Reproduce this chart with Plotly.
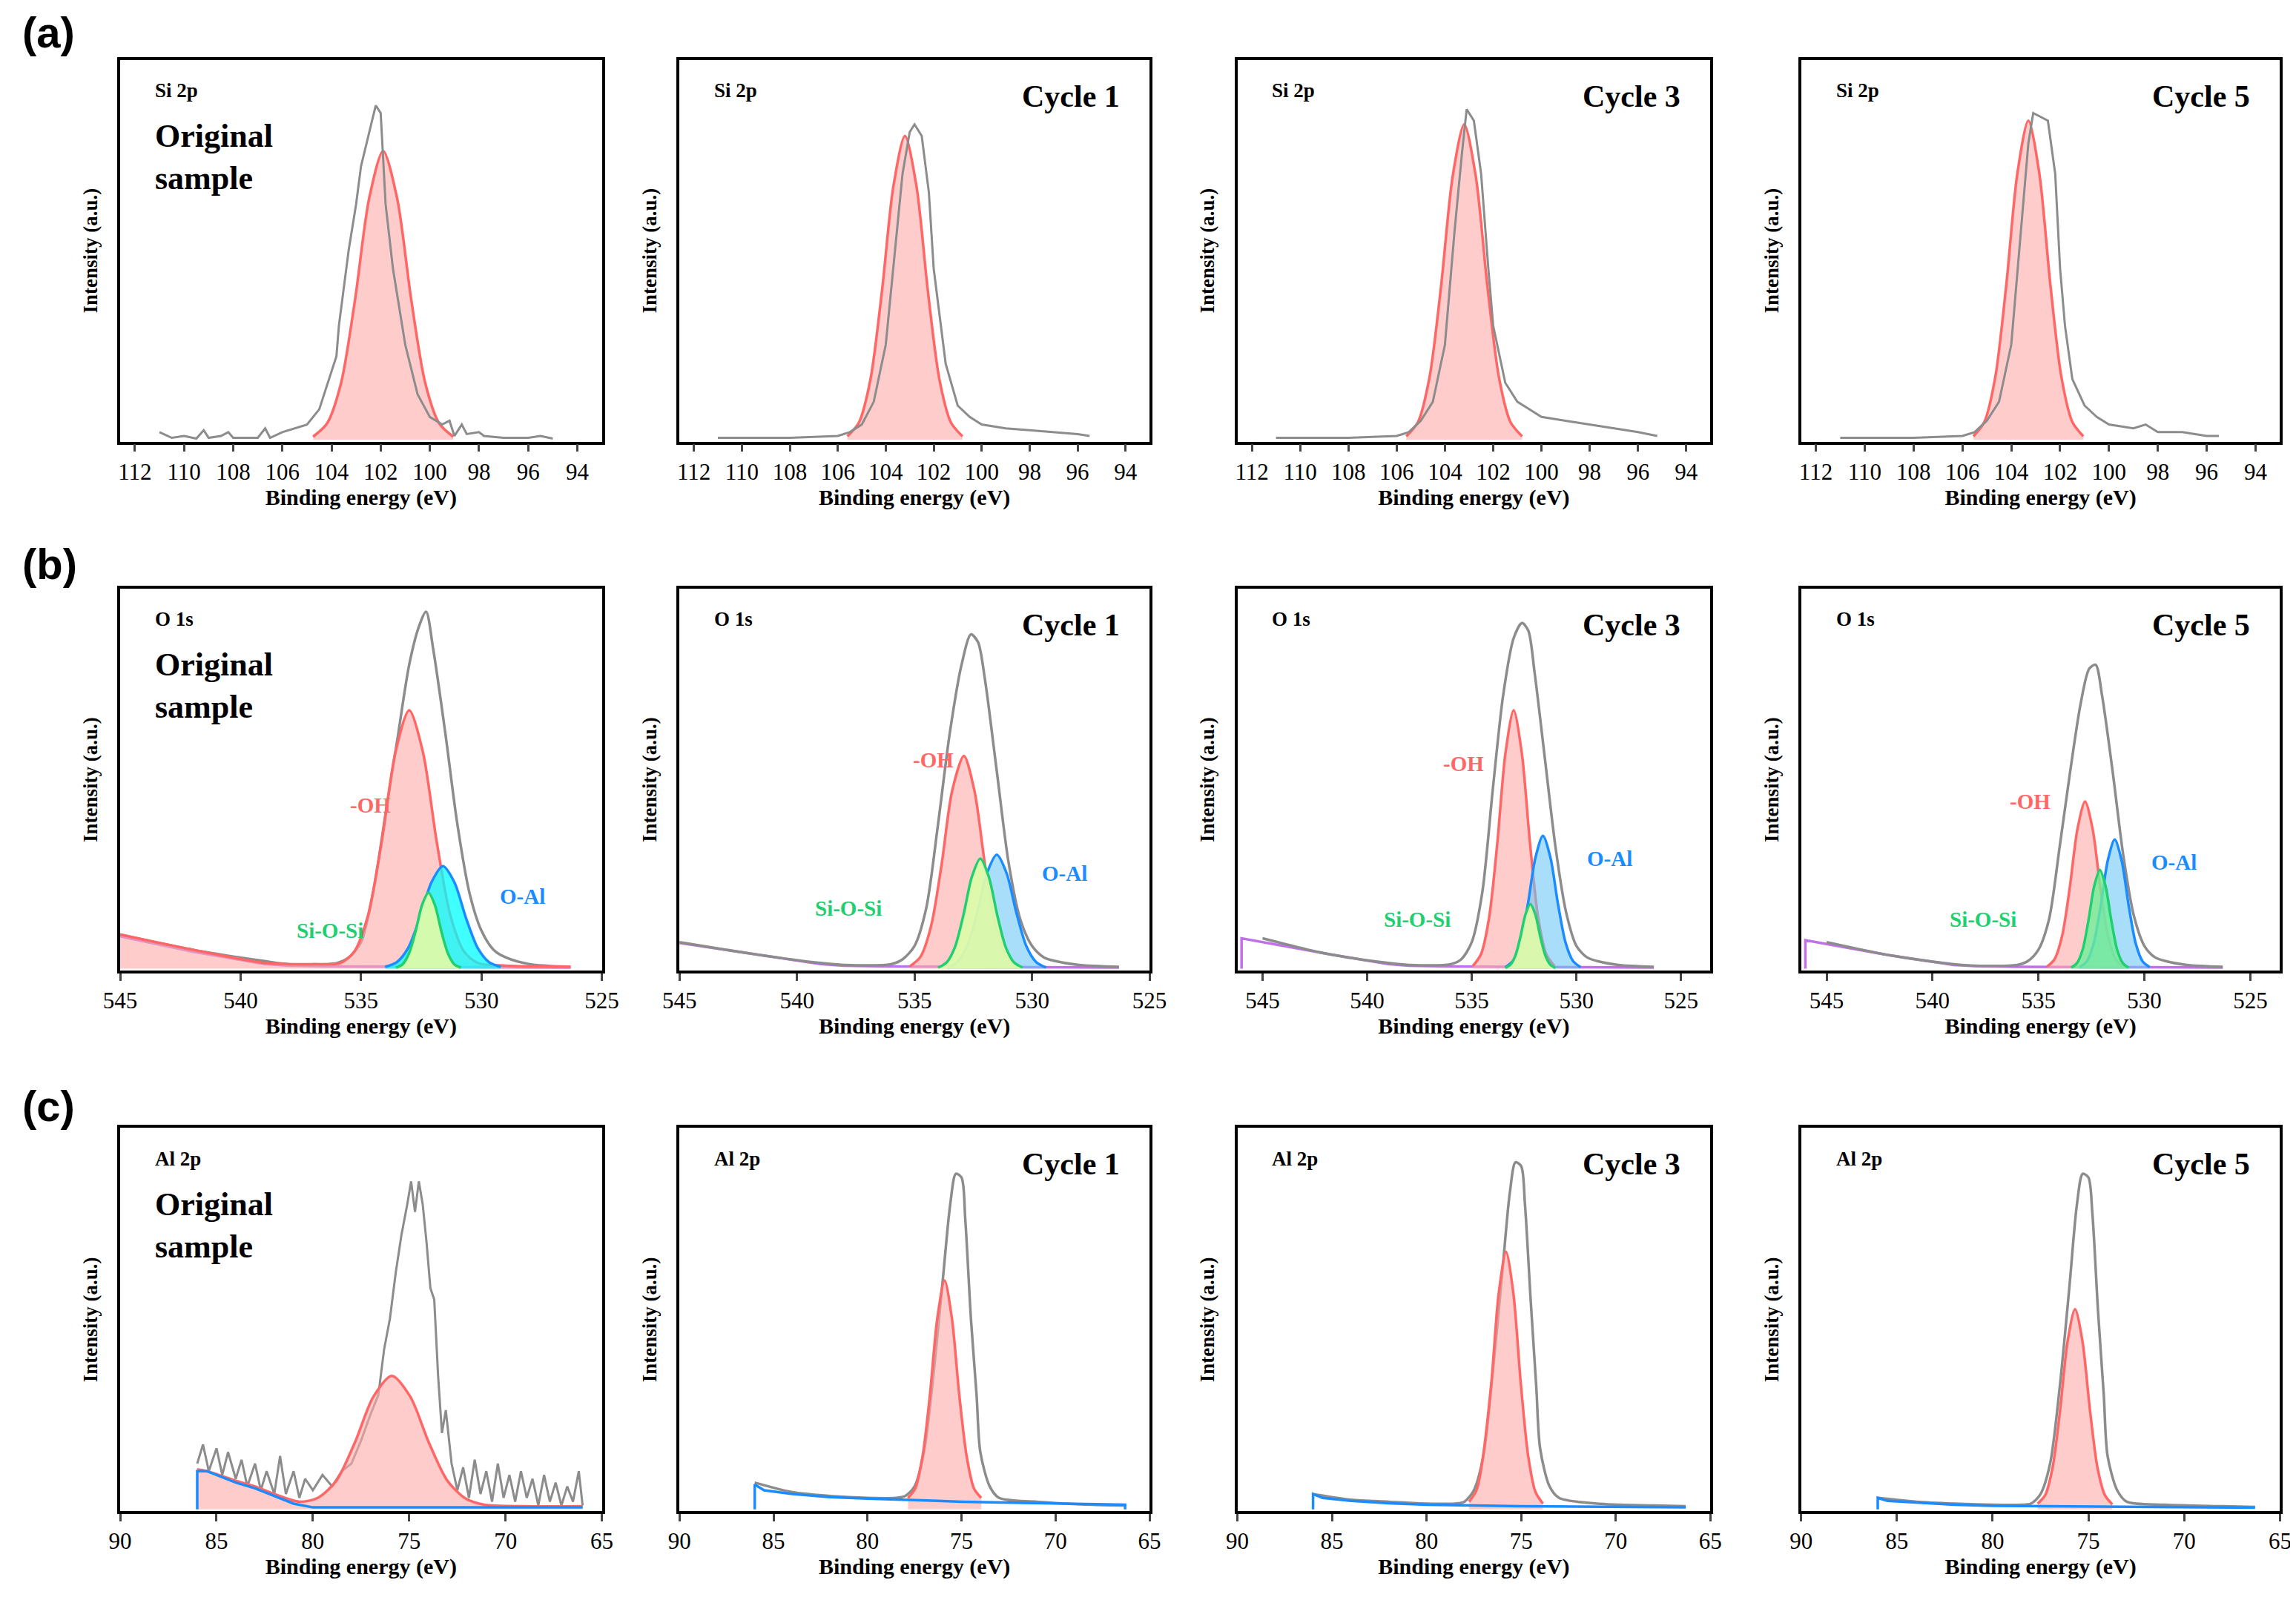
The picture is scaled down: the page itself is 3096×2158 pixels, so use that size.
import plotly.graph_objects as go

# ---------------- DATA ----------------
cycle_labels = ["Original\nsample", "Cycle 1", "Cycle 3", "Cycle 5"]
row_labels = ["(a)", "(b)", "(c)"]
core_levels = ["Si 2p", "O 1s", "Al 2p"]
x_ranges = [[[112.6, 93.0]] * 4,
            [[545, 525], [545, 525], [546.2, 523.6], [546.2, 523.6]],
            [[90, 65]] * 4]
x_ticks = [[112, 110, 108, 106, 104, 102, 100, 98, 96, 94],
           [545, 540, 535, 530, 525],
           [90, 85, 80, 75, 70, 65]]

# Row (a) Si 2p raw
a_raw_x = [[111, 110.5, 110, 109.5, 109.2, 109, 108.5, 108.2, 108, 107, 106.7, 106.5, 106, 105.5, 105, 104.5, 104, 103.8, 103.7, 103.5, 103.3, 103, 102.8, 102.5, 102.2, 102.0, 101.8, 101.5, 101, 100.5, 100, 99.5, 99.2, 99, 98.7, 98.5, 98, 97.8, 97, 96, 95.5, 95],
           [111, 108, 106, 105.5, 105, 104.5, 104, 103.6, 103.3, 103.0, 102.8, 102.5, 102.2, 102, 101.5, 101, 100.5, 100, 99, 98, 97, 96, 95.5],
           [111, 108, 106, 105.5, 105, 104.5, 104, 103.6, 103.3, 103.1, 102.8, 102.5, 102.2, 102, 101.5, 101, 100.5, 100, 99, 98, 97, 96, 95.2],
           [111, 108, 106, 105.5, 105, 104.5, 104, 103.6, 103.3, 103.1, 102.8, 102.5, 102.2, 102, 101.8, 101.5, 101, 100.5, 100, 99, 98.5, 98, 97, 96, 95.5]]
a_raw_y = [[0.02, 0.005, 0.01, 0.003, 0.025, 0.005, 0.01, 0.02, 0.005, 0.005, 0.03, 0.005, 0.02, 0.03, 0.04, 0.08, 0.18, 0.22, 0.3, 0.4, 0.5, 0.62, 0.72, 0.8, 0.88, 0.86, 0.62, 0.45, 0.25, 0.12, 0.06, 0.04, 0.05, 0.01, 0.04, 0.015, 0.02, 0.01, 0.005, 0.005, 0.01, 0.003],
           [0.005, 0.005, 0.01, 0.02, 0.04, 0.1, 0.25, 0.5, 0.7, 0.81, 0.83, 0.8, 0.65, 0.45, 0.2, 0.09, 0.06, 0.04, 0.03, 0.025, 0.02, 0.015, 0.01],
           [0.005, 0.005, 0.01, 0.02, 0.05, 0.1, 0.25, 0.55, 0.75, 0.87, 0.84, 0.7, 0.45, 0.3, 0.15, 0.1, 0.08, 0.06, 0.05, 0.04, 0.03, 0.02, 0.01],
           [0.005, 0.005, 0.01, 0.02, 0.05, 0.1, 0.25, 0.55, 0.78, 0.86, 0.85, 0.84, 0.7, 0.45, 0.3, 0.16, 0.09, 0.06, 0.04, 0.03, 0.04, 0.02, 0.02, 0.01, 0.01]]
a_fit_x = [[104.75, 104.18, 103.61, 103.04, 102.47, 101.9, 101.33, 100.76, 100.19, 99.62, 99.05],
           [105.6, 105.12, 104.64, 104.16, 103.68, 103.2, 102.72, 102.24, 101.76, 101.28, 100.8],
           [105.6, 105.12, 104.64, 104.16, 103.68, 103.2, 102.72, 102.24, 101.76, 101.28, 100.8],
           [105.55, 105.1, 104.65, 104.2, 103.75, 103.3, 102.85, 102.4, 101.95, 101.5, 101.05]]
a_fit_y = [[0.008, 0.043, 0.150, 0.370, 0.635, 0.76, 0.635, 0.370, 0.150, 0.043, 0.008],
           [0.009, 0.045, 0.158, 0.39, 0.668, 0.80, 0.668, 0.39, 0.158, 0.045, 0.009],
           [0.009, 0.046, 0.164, 0.404, 0.693, 0.83, 0.693, 0.404, 0.164, 0.046, 0.009],
           [0.009, 0.047, 0.166, 0.409, 0.701, 0.84, 0.701, 0.409, 0.166, 0.047, 0.009]]

# Row (b) O 1s raw
b_raw_x = [545, 542, 539, 538, 536, 535.5, 535, 534.5, 534, 533.5, 533, 532.6, 532.3, 532, 531.5, 531, 530.5, 530, 529.5, 529, 528, 526.3]
b_raw_y = [[0.09, 0.05, 0.02, 0.012, 0.015, 0.03, 0.07, 0.2, 0.4, 0.6, 0.8, 0.9, 0.94, 0.84, 0.62, 0.38, 0.2, 0.1, 0.05, 0.03, 0.012, 0.005],
           [0.07, 0.04, 0.015, 0.01, 0.012, 0.025, 0.06, 0.16, 0.38, 0.62, 0.8, 0.88, 0.86, 0.76, 0.52, 0.28, 0.13, 0.06, 0.03, 0.02, 0.01, 0.005],
           [0.08, 0.04, 0.015, 0.01, 0.012, 0.025, 0.07, 0.2, 0.47, 0.72, 0.87, 0.91, 0.89, 0.78, 0.55, 0.32, 0.15, 0.06, 0.03, 0.02, 0.01, 0.005],
           [0.07, 0.035, 0.012, 0.008, 0.01, 0.02, 0.05, 0.13, 0.32, 0.52, 0.7, 0.79, 0.80, 0.72, 0.52, 0.3, 0.14, 0.06, 0.03, 0.02, 0.01, 0.005]]
b_bg_x = [[545, 542, 539, 538, 536, 530, 526.3],
          [545, 542, 539, 538, 536, 530, 526.3],
          [546, 546, 542, 539, 538, 536, 530, 526.3],
          [546, 546, 542, 539, 538, 536, 530, 526.3]]
b_bg_y = [[0.085, 0.045, 0.012, 0.008, 0.006, 0.004, 0.003],
          [0.068, 0.04, 0.012, 0.008, 0.006, 0.004, 0.003],
          [0.0, 0.08, 0.04, 0.012, 0.008, 0.006, 0.004, 0.003],
          [0.0, 0.075, 0.035, 0.01, 0.007, 0.005, 0.004, 0.003]]
b_oh_x = [[545, 542, 539, 538, 537, 535.85, 535.28, 534.71, 534.14, 533.57, 533.0, 532.43, 531.86, 531.29, 530.72, 530.15, 529, 526.3],
          [535.2, 534.75, 534.3, 533.85, 533.4, 532.9, 532.45, 532.0, 531.55, 531.1, 530.6],
          [534.95, 534.56, 534.17, 533.78, 533.39, 533.0, 532.61, 532.22, 531.83, 531.44, 531.05],
          [534.6, 534.24, 533.88, 533.52, 533.16, 532.8, 532.44, 532.08, 531.72, 531.36, 531.0]]
b_oh_y = [[0.09, 0.05, 0.015, 0.012, 0.012, 0.015, 0.045, 0.14, 0.335, 0.57, 0.68, 0.57, 0.335, 0.14, 0.045, 0.015, 0.008, 0.005],
          [0.006, 0.031, 0.111, 0.273, 0.468, 0.56, 0.468, 0.273, 0.111, 0.031, 0.006],
          [0.007, 0.038, 0.135, 0.331, 0.568, 0.68, 0.568, 0.331, 0.135, 0.038, 0.007],
          [0.005, 0.025, 0.087, 0.214, 0.367, 0.44, 0.367, 0.214, 0.087, 0.025, 0.005]]
b_oal_x = [[534.0, 533.52, 533.04, 532.56, 532.08, 531.6, 531.12, 530.64, 530.16, 529.68, 529.2],
           [533.6, 533.18, 532.76, 532.34, 531.92, 531.5, 531.08, 530.66, 530.24, 529.82, 529.4],
           [533.4, 533.04, 532.68, 532.32, 531.96, 531.6, 531.24, 530.88, 530.52, 530.16, 529.8],
           [533.05, 532.72, 532.39, 532.06, 531.73, 531.4, 531.07, 530.74, 530.41, 530.08, 529.75]]
b_oal_y = [[0.005, 0.017, 0.055, 0.133, 0.227, 0.27, 0.227, 0.133, 0.055, 0.017, 0.005],
           [0.003, 0.017, 0.059, 0.146, 0.251, 0.30, 0.251, 0.146, 0.059, 0.017, 0.003],
           [0.004, 0.02, 0.069, 0.17, 0.292, 0.35, 0.292, 0.17, 0.069, 0.02, 0.004],
           [0.004, 0.019, 0.067, 0.166, 0.284, 0.34, 0.284, 0.166, 0.067, 0.019, 0.004]]
b_sos_x = [[533.55, 533.28, 533.01, 532.74, 532.47, 532.2, 531.93, 531.66, 531.39, 531.12, 530.85],
           [534.0, 533.64, 533.28, 532.92, 532.56, 532.2, 531.84, 531.48, 531.12, 530.76, 530.4],
           [533.4, 533.16, 532.92, 532.68, 532.44, 532.2, 531.96, 531.72, 531.48, 531.24, 531.0],
           [533.45, 533.18, 532.91, 532.64, 532.37, 532.1, 531.83, 531.56, 531.29, 531.02, 530.75]]
b_sos_y = [[0.003, 0.011, 0.04, 0.097, 0.167, 0.2, 0.167, 0.097, 0.04, 0.011, 0.003],
           [0.003, 0.016, 0.057, 0.141, 0.242, 0.29, 0.242, 0.141, 0.057, 0.016, 0.003],
           [0.002, 0.01, 0.034, 0.083, 0.142, 0.17, 0.142, 0.083, 0.034, 0.01, 0.002],
           [0.003, 0.015, 0.051, 0.127, 0.217, 0.26, 0.217, 0.127, 0.051, 0.015, 0.003]]
b_label_pos = [[(534.6, 0.43), (528.3, 0.19), (536.3, 0.10)],
               [(534.2, 0.55), (528.6, 0.25), (537.8, 0.16)],
               [(535.4, 0.54), (528.4, 0.29), (537.6, 0.13)],
               [(535.4, 0.44), (528.6, 0.28), (537.6, 0.13)]]

# Row (c) Al 2p raw
c1_raw_x = [86, 85.7, 85.4, 85.0, 84.7, 84.4, 84.0, 83.7, 83.4, 83.0, 82.7, 82.4, 82.0, 81.7, 81.4, 81.0, 80.7, 80.4, 80.0, 79.5, 79, 78.5, 78, 77.5, 77, 76.6, 76.3, 76, 75.7, 75.4, 75.1, 74.9, 74.7, 74.5, 74.3, 74.1, 73.9, 73.7, 73.5, 73.3, 73.1, 72.8, 72.5, 72.2, 71.9, 71.6, 71.3, 71.0, 70.7, 70.4, 70.1, 69.8, 69.5, 69.2, 68.9, 68.6, 68.3, 68.0, 67.7, 67.4, 67.1, 66.8, 66.5, 66.2, 66.0]
c1_raw_y = [0.12, 0.17, 0.1, 0.16, 0.09, 0.15, 0.08, 0.13, 0.06, 0.12, 0.05, 0.1, 0.04, 0.14, 0.04, 0.1, 0.03, 0.08, 0.05, 0.09, 0.06, 0.1, 0.12, 0.18, 0.25, 0.3, 0.42, 0.5, 0.62, 0.72, 0.8, 0.86, 0.78, 0.86, 0.8, 0.7, 0.58, 0.55, 0.35, 0.2, 0.26, 0.12, 0.05, 0.11, 0.03, 0.13, 0.04, 0.1, 0.02, 0.12, 0.03, 0.09, 0.02, 0.1, 0.03, 0.08, 0.01, 0.09, 0.02, 0.07, 0.01, 0.06, 0.02, 0.1, 0.01]
c_raw_x = [86, 84, 82, 80, 78.5, 78, 77.5, 77, 76.5, 76, 75.6, 75.3, 75, 74.8, 74.5, 74.2, 74, 73.5, 73, 71, 68, 66.3]
c_raw_y = [[0.07, 0.045, 0.035, 0.03, 0.03, 0.035, 0.06, 0.15, 0.35, 0.6, 0.8, 0.88, 0.87, 0.76, 0.5, 0.3, 0.15, 0.06, 0.03, 0.02, 0.012, 0.01],
           [0.04, 0.025, 0.02, 0.015, 0.015, 0.02, 0.05, 0.14, 0.36, 0.62, 0.83, 0.91, 0.9, 0.8, 0.55, 0.32, 0.16, 0.06, 0.03, 0.015, 0.01, 0.008],
           [0.03, 0.02, 0.015, 0.012, 0.012, 0.015, 0.04, 0.12, 0.32, 0.58, 0.8, 0.88, 0.87, 0.78, 0.52, 0.3, 0.14, 0.05, 0.02, 0.012, 0.008, 0.006]]
c_bg_x = [[86, 86, 85.5, 84, 83, 82, 81, 80, 66],
          [86, 86, 85.5, 84, 82, 80, 75, 70, 66.3, 66.3],
          [86, 86, 85.5, 84, 82, 80, 75, 70, 66.3],
          [86, 86, 85.5, 84, 82, 80, 75, 70, 66.3]]
c_bg_y = [[0.0, 0.1, 0.1, 0.07, 0.055, 0.035, 0.015, 0.005, 0.005],
          [0.0, 0.065, 0.05, 0.04, 0.032, 0.028, 0.02, 0.015, 0.012, 0.0],
          [0.0, 0.04, 0.03, 0.022, 0.016, 0.012, 0.008, 0.006, 0.005],
          [0.0, 0.03, 0.022, 0.017, 0.012, 0.009, 0.007, 0.005, 0.004]]
c_fit_x = [[86, 85.5, 84, 83, 82, 80.7, 79.74, 78.78, 77.82, 76.86, 75.9, 74.94, 73.98, 73.02, 72.06, 71.1, 69, 66],
           [77.85, 77.46, 77.07, 76.68, 76.29, 75.9, 75.51, 75.12, 74.73, 74.34, 73.95],
           [77.75, 77.36, 77.07, 76.58, 76.19, 75.8, 75.41, 75.02, 74.63, 74.24, 73.85],
           [77.65, 77.26, 76.87, 76.48, 76.09, 75.7, 75.31, 74.92, 74.53, 74.14, 73.75]]
c_fit_y = [[0.105, 0.1, 0.075, 0.06, 0.04, 0.02, 0.03, 0.075, 0.175, 0.295, 0.35, 0.295, 0.175, 0.075, 0.028, 0.012, 0.008, 0.008],
           [0.03, 0.055, 0.14, 0.3, 0.5, 0.6, 0.5, 0.3, 0.14, 0.055, 0.03],
           [0.02, 0.05, 0.12, 0.33, 0.565, 0.675, 0.565, 0.33, 0.14, 0.045, 0.015],
           [0.015, 0.037, 0.11, 0.26, 0.44, 0.525, 0.44, 0.26, 0.11, 0.037, 0.013]]

# ---------------- LAYOUT ----------------
W, H = 3096, 2158
col_px = [(78, 407), (460, 781), (841, 1164), (1226, 1553)]
row_px = [(37, 299), (400, 662), (770, 1033)]
SW, SH = 1568.0, 1098.0

GREY = "#8c8c8c"
RED = "#ff6666"
RED_FILL = "rgba(255,170,170,0.6)"
BLUE = "#1a8cff"
GREEN = "#20d070"
PURPLE = "#c070e8"
FONT = "Liberation Serif"

fig = go.Figure()
annotations = []
layout_axes = {}

def add(ax_i, x, y, color, width=3.5, fill=None, fillcolor=None, shape="spline"):
    fig.add_trace(go.Scatter(x=x, y=y, mode="lines",
                             line=dict(color=color, width=width, shape=shape, smoothing=0.8),
                             fill=fill, fillcolor=fillcolor,
                             xaxis="x" + ("" if ax_i == 1 else str(ax_i)),
                             yaxis="y" + ("" if ax_i == 1 else str(ax_i)),
                             showlegend=False, hoverinfo="skip"))

idx = 0
for r in range(3):
    for c in range(4):
        idx += 1
        xs = "" if idx == 1 else str(idx)
        dx = [col_px[c][0] / SW, col_px[c][1] / SW]
        dy = [1 - row_px[r][1] / SH, 1 - row_px[r][0] / SH]
        common = dict(showline=True, linecolor="black", linewidth=3.5, mirror=True,
                      showgrid=False, zeroline=False, automargin=False)
        layout_axes["xaxis" + xs] = dict(domain=dx, range=x_ranges[r][c], anchor="y" + xs,
                                         tickvals=x_ticks[r], ticks="outside", ticklen=10, tickwidth=3,
                                         tickfont=dict(family=FONT, size=31, color="black"),
                                         title=dict(text="<b>Binding energy (eV)</b>", standoff=8,
                                                    font=dict(family=FONT, size=30, color="black")),
                                         **common)
        layout_axes["yaxis" + xs] = dict(domain=dy, range=[-0.005, 1.0], anchor="x" + xs,
                                         showticklabels=False, ticks="",
                                         title=dict(text="<b>Intensity (a.u.)</b>", standoff=20,
                                                    font=dict(family=FONT, size=27, color="black")),
                                         **common)
        xr, yr = "x" + xs + " domain", "y" + xs + " domain"
        annotations.append(dict(x=0.07, y=0.92, xref=xr, yref=yr, text="<b>" + core_levels[r] + "</b>",
                                showarrow=False, xanchor="left", yanchor="middle",
                                font=dict(family=FONT, size=27, color="black")))
        if c == 0:
            annotations.append(dict(x=0.07, y=0.745, xref=xr, yref=yr,
                                    text="<b>Original<br>sample</b>", showarrow=False, align="left",
                                    xanchor="left", yanchor="middle",
                                    font=dict(family=FONT, size=44, color="black")))
        else:
            annotations.append(dict(x=0.94, y=0.905, xref=xr, yref=yr, text="<b>" + cycle_labels[c] + "</b>",
                                    showarrow=False, xanchor="right", yanchor="middle",
                                    font=dict(family=FONT, size=42, color="black")))

        if r == 0:
            add(idx, a_fit_x[c], a_fit_y[c], RED, fill="tozeroy", fillcolor=RED_FILL)
            add(idx, a_raw_x[c], a_raw_y[c], GREY, width=3, shape="linear")
        elif r == 1:
            add(idx, b_bg_x[c], b_bg_y[c], PURPLE, width=3.5, shape="linear")
            add(idx, b_raw_x, b_raw_y[c], GREY)
            add(idx, b_oh_x[c], b_oh_y[c], RED, fill="tozeroy", fillcolor=RED_FILL)
            add(idx, b_oal_x[c], b_oal_y[c], BLUE, fill="tozeroy",
                fillcolor="rgba(0,255,255,0.75)" if c == 0 else "rgba(110,200,245,0.6)")
            add(idx, b_sos_x[c], b_sos_y[c], GREEN, fill="tozeroy",
                fillcolor="rgba(220,250,170,0.95)" if c < 3 else "rgba(110,240,150,0.8)")
            labs = [("-OH", RED), ("O-Al", BLUE), ("Si-O-Si", GREEN)]
            for (t, col), (lx, ly) in zip(labs, b_label_pos[c]):
                annotations.append(dict(x=lx, y=ly, xref="x" + xs, yref="y" + xs, text="<b>" + t + "</b>",
                                        showarrow=False, font=dict(family=FONT, size=29, color=col)))
        else:
            if c == 0:
                add(idx, c1_raw_x, c1_raw_y, GREY, width=3, shape="linear")
            else:
                add(idx, c_raw_x, c_raw_y[c - 1], GREY)
            add(idx, c_fit_x[c], c_fit_y[c], RED, fill="tozeroy", fillcolor=RED_FILL)
            add(idx, c_bg_x[c], c_bg_y[c], BLUE, width=3.5, shape="linear")

for i, lab in enumerate(row_labels):
    ypx = [18, 383, 755][i]
    annotations.append(dict(x=10 / SW, y=1 - ypx / SH, xref="paper", yref="paper", text="<b>" + lab + "</b>",
                            showarrow=False, xanchor="left", yanchor="middle",
                            font=dict(family="Liberation Sans", size=58, color="black")))

fig.update_layout(width=W, height=H, margin=dict(l=0, r=0, t=0, b=0, autoexpand=False),
                  paper_bgcolor="white", plot_bgcolor="white",
                  annotations=annotations, **layout_axes)
fig.write_html("out.html")
